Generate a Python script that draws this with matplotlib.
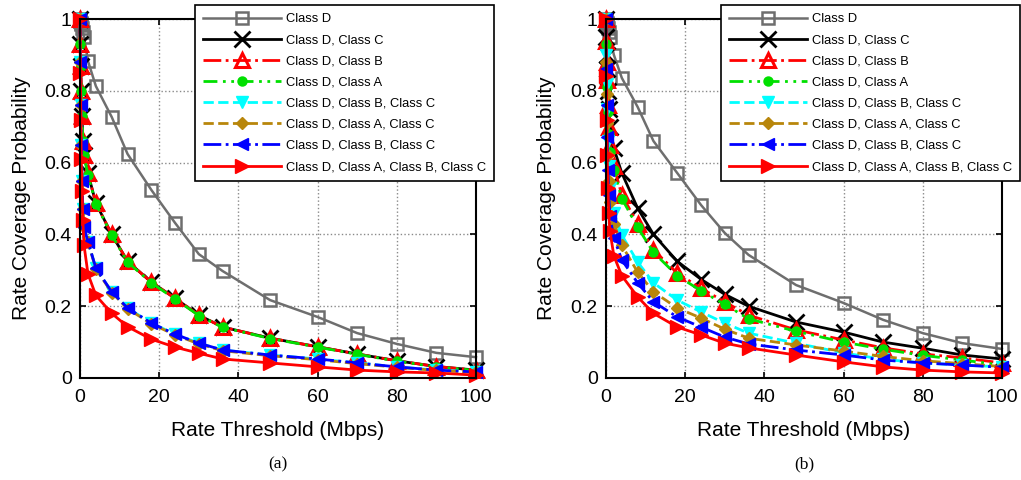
import numpy as np
import matplotlib
matplotlib.use('Agg')
import matplotlib.pyplot as plt

plt.rcParams['font.family'] = ['Liberation Sans', 'DejaVu Sans']

# rate threshold (Mbps)
x_rate = [0, 0.1, 0.2, 0.3, 0.5, 0.7, 1, 2, 4, 8, 12, 18, 24, 30, 36, 48, 60, 70, 80, 90, 100]

labels = ['Class D', 'Class D, Class C', 'Class D, Class B', 'Class D, Class A',
          'Class D, Class B, Class C', 'Class D, Class A, Class C',
          'Class D, Class B, Class C', 'Class D, Class A, Class B, Class C']

# panel (a)
a_d = [1.0, 0.995, 0.99, 0.985, 0.975, 0.965, 0.95, 0.883, 0.813, 0.727, 0.624, 0.524, 0.432, 0.345, 0.298, 0.217, 0.170, 0.125, 0.095, 0.070, 0.058]
a_dc = [1.0, 0.93, 0.87, 0.80, 0.73, 0.66, 0.62, 0.57, 0.487, 0.40, 0.325, 0.267, 0.222, 0.175, 0.142, 0.111, 0.087, 0.067, 0.048, 0.032, 0.022]
a_db = [1.0, 0.93, 0.87, 0.80, 0.73, 0.66, 0.62, 0.57, 0.487, 0.40, 0.325, 0.267, 0.222, 0.175, 0.142, 0.111, 0.087, 0.067, 0.048, 0.032, 0.022]
a_da = [1.0, 0.93, 0.87, 0.80, 0.73, 0.66, 0.62, 0.565, 0.485, 0.398, 0.323, 0.265, 0.22, 0.174, 0.141, 0.110, 0.086, 0.066, 0.047, 0.031, 0.021]
a_dbc = [1.0, 0.88, 0.76, 0.65, 0.55, 0.47, 0.42, 0.38, 0.306, 0.24, 0.195, 0.153, 0.122, 0.097, 0.078, 0.064, 0.053, 0.042, 0.031, 0.022, 0.017]
a_dac = [1.0, 0.88, 0.76, 0.65, 0.55, 0.47, 0.42, 0.378, 0.304, 0.238, 0.193, 0.151, 0.120, 0.095, 0.076, 0.062, 0.051, 0.040, 0.030, 0.021, 0.016]
a_dbc2 = [1.0, 0.88, 0.76, 0.65, 0.55, 0.47, 0.42, 0.38, 0.306, 0.24, 0.195, 0.153, 0.122, 0.097, 0.078, 0.064, 0.053, 0.042, 0.031, 0.022, 0.017]
a_dabc = [1.0, 0.85, 0.72, 0.61, 0.52, 0.44, 0.37, 0.29, 0.23, 0.18, 0.143, 0.108, 0.086, 0.069, 0.053, 0.042, 0.031, 0.022, 0.017, 0.014, 0.008]

# panel (b)
b_d = [1.0, 0.995, 0.99, 0.985, 0.975, 0.965, 0.95, 0.90, 0.836, 0.755, 0.66, 0.571, 0.482, 0.404, 0.343, 0.259, 0.209, 0.162, 0.125, 0.097, 0.081]
b_dc = [1.0, 0.95, 0.90, 0.86, 0.80, 0.75, 0.70, 0.64, 0.571, 0.473, 0.40, 0.325, 0.275, 0.233, 0.20, 0.156, 0.128, 0.10, 0.083, 0.064, 0.053]
b_db = [1.0, 0.94, 0.88, 0.83, 0.76, 0.70, 0.65, 0.59, 0.51, 0.43, 0.357, 0.292, 0.25, 0.212, 0.175, 0.134, 0.106, 0.084, 0.067, 0.056, 0.042]
b_da = [1.0, 0.93, 0.87, 0.81, 0.74, 0.68, 0.63, 0.58, 0.50, 0.42, 0.35, 0.285, 0.243, 0.205, 0.165, 0.13, 0.10, 0.08, 0.063, 0.05, 0.036]
b_dbc = [1.0, 0.90, 0.82, 0.75, 0.66, 0.59, 0.53, 0.46, 0.398, 0.323, 0.265, 0.217, 0.184, 0.153, 0.125, 0.097, 0.07, 0.052, 0.042, 0.036, 0.031]
b_dac = [1.0, 0.88, 0.79, 0.71, 0.62, 0.55, 0.49, 0.43, 0.37, 0.295, 0.24, 0.195, 0.167, 0.136, 0.111, 0.092, 0.075, 0.06, 0.048, 0.04, 0.032]
b_dbc2 = [1.0, 0.86, 0.76, 0.67, 0.58, 0.51, 0.45, 0.39, 0.329, 0.265, 0.212, 0.17, 0.142, 0.114, 0.095, 0.078, 0.064, 0.05, 0.042, 0.036, 0.03]
b_dabc = [1.0, 0.84, 0.72, 0.62, 0.53, 0.46, 0.41, 0.34, 0.285, 0.226, 0.18, 0.142, 0.12, 0.097, 0.084, 0.064, 0.045, 0.031, 0.022, 0.017, 0.014]

styles = [
    dict(color='#6e6e6e', ls='-', marker='s', ms=8, mfc='none', mew=1.8, lw=1.8),
    dict(color='black', ls='-', marker='x', ms=11, mew=2, lw=2),
    dict(color='red', ls='-.', marker='^', ms=10, mfc='none', mew=2.2, lw=2),
    dict(color='#00e000', ls=(0, (5, 2, 1, 2, 1, 2)), marker='o', ms=6, mfc='#00e000', mew=1.5, lw=2),
    dict(color='cyan', ls='--', marker='v', ms=9, mfc='cyan', lw=2),
    dict(color='#b8860b', ls='--', marker='D', ms=6, mfc='#b8860b', lw=2),
    dict(color='blue', ls='-.', marker='<', ms=9, mfc='blue', lw=2),
    dict(color='red', ls='-', marker='>', ms=10, mfc='red', lw=2),
]

fig = plt.figure(figsize=(10.21, 4.8), dpi=100)
ax_a = fig.add_axes([0.0784, 0.2125, 0.3878, 0.7479])
ax_b = fig.add_axes([0.5935, 0.2125, 0.3878, 0.7479])

panels = [(ax_a, [a_d, a_dc, a_db, a_da, a_dbc, a_dac, a_dbc2, a_dabc], '(a)'),
          (ax_b, [b_d, b_dc, b_db, b_da, b_dbc, b_dac, b_dbc2, b_dabc], '(b)')]

for ax, series, cap in panels:
    for y, lab, st in zip(series, labels, styles):
        ax.plot(x_rate, y, label=lab, clip_on=False, **st)
    ax.set_xlim(0, 100)
    ax.set_ylim(0, 1)
    ax.set_xticks([0, 20, 40, 60, 80, 100])
    ax.set_yticks([0, 0.2, 0.4, 0.6, 0.8, 1])
    ax.set_yticklabels(['0', '0.2', '0.4', '0.6', '0.8', '1'])
    ax.tick_params(direction='in', top=True, right=True, labelsize=14, length=4, width=1.2, pad=6)
    ax.tick_params(axis='x', pad=8)
    ax.grid(True, color='#8a8a8a', linestyle=':', linewidth=1)
    for sp in ax.spines.values():
        sp.set_linewidth(1.5)
    ax.set_xlabel('Rate Threshold (Mbps)', fontsize=15, labelpad=11)
    ax.set_ylabel('Rate Coverage Probability', fontsize=15, labelpad=10)
    leg = ax.legend(loc='upper left', bbox_to_anchor=(0.29, 1.039), fontsize=9.3,
                    handlelength=6.0, handletextpad=0.4, labelspacing=0.7,
                    borderpad=0.65, borderaxespad=0, fancybox=False,
                    framealpha=1, edgecolor='black')
    leg.get_frame().set_linewidth(1.2)
    leg.set_zorder(10)
    ax.text(0.5, -0.242, cap, transform=ax.transAxes, ha='center', va='center',
            fontsize=12.5, family=['Liberation Serif', 'DejaVu Serif'])

fig.savefig('out.png', dpi=100)
